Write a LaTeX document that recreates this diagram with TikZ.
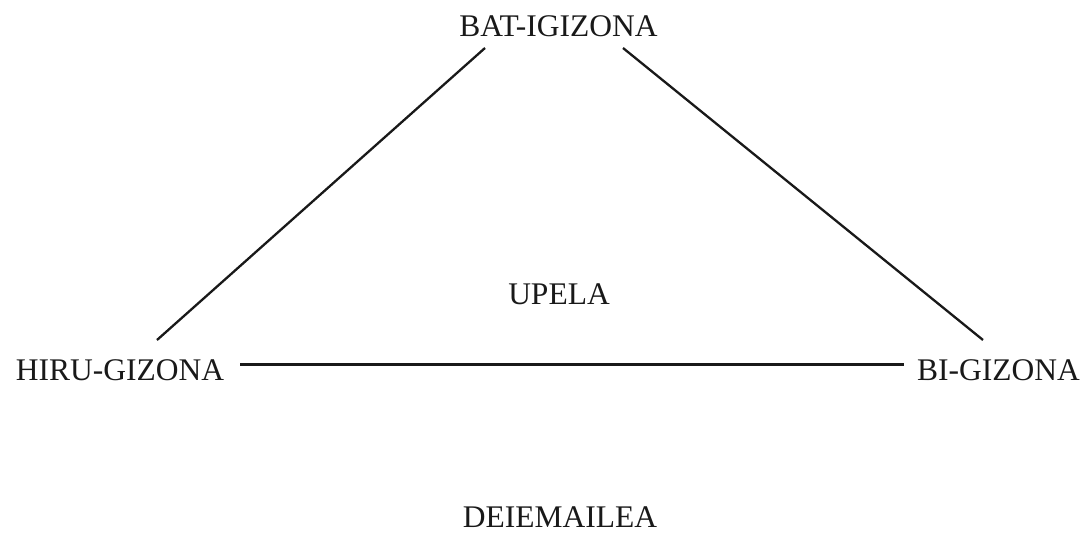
\documentclass[tikz,border=0pt]{standalone}
\usepackage{fontspec}
\setmainfont{Liberation Serif}
\begin{document}
\begin{tikzpicture}[x=1pt,y=-1pt,
  lbl/.style={inner sep=0pt,anchor=base,font=\fontsize{31.5}{31.5}\selectfont,text=black!90},
  conn/.style={line width=2.3pt,black!90}]
\useasboundingbox (0,0) rectangle (1085,535);
\node[lbl] (bat) at (558.5,37) {BAT-IGIZONA};
\node[lbl] (hiru) at (120,380.5) {HIRU-GIZONA};
\node[lbl] (bi) at (998.5,380.5) {BI-GIZONA};
\node[lbl] (upela) at (559,304) {UPELA};
\node[lbl] (deie) at (560,527.5) {DEIEMAILEA};
\coordinate (batL) at (485,48);
\coordinate (batR) at (623,48);
\coordinate (hiruT) at (157,340);
\coordinate (hiruR) at (240,364.5);
\coordinate (biT) at (983,340);
\coordinate (biL) at (904,364.5);
\draw[conn] (hiruT) -- (batL);
\draw[conn] (batR) -- (biT);
\draw[conn] (hiruR) -- (biL);
\end{tikzpicture}
\end{document}
